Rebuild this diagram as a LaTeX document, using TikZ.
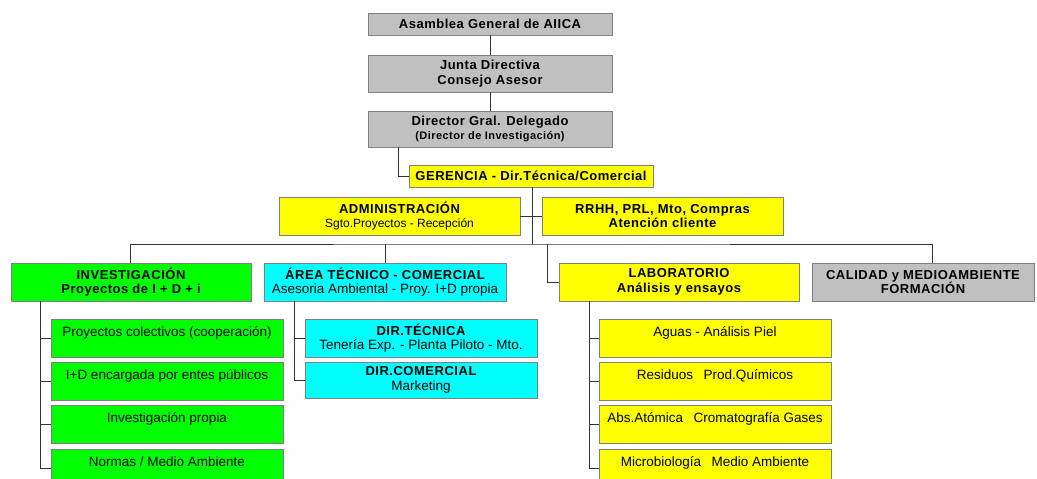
\documentclass[tikz,border=0pt]{standalone}
\usepackage{fontspec}
\setmainfont{Liberation Sans}[BoldFeatures={LetterSpace=4}]
\usepackage{xcolor}
\usetikzlibrary{calc}
\definecolor{gris}{HTML}{C0C0C0}
\definecolor{amarillo}{HTML}{FFFF00}
\definecolor{verde}{HTML}{00FF00}
\definecolor{cian}{HTML}{00FFFF}
\definecolor{borde}{HTML}{808080}
\definecolor{linea}{HTML}{333333}

\begin{document}
\begin{tikzpicture}[x=1pt,y=-1pt,
		%Option for the boxes%
		caja/.style={draw=borde,line width=0.8pt,inner sep=0pt,outer sep=0pt,
			anchor=north west,align=center,text=black},%
		titulo/.style={caja,font=\fontsize{13}{14.5}\selectfont\bfseries},%
		normal/.style={caja,font=\fontsize{13.5}{14.5}\selectfont},%
		hijo/.style={normal,minimum width=232pt,text height=17pt,text depth=21pt},%
		conector/.style={draw=linea,line width=0.8pt}%
		]
		%% some definitions
		\def\W{244}      % width of the top boxes
		\def\Wh{232}     % width of the sub boxes
		\def\bus{244}    % level of the main branch line
		\def\bt{\fontsize{13}{14.5}\selectfont\bfseries} % bold title line
		%
		\path[use as bounding box,clip] (0,0) rectangle (1037,479);
		%
	%% direccion
	\node[titulo,fill=gris,minimum width=\W,minimum height=22] (asam) at (368,13) {Asamblea General de AIICA};
	\node[titulo,fill=gris,minimum width=\W,minimum height=37] (junta) at (368,55) {Junta Directiva\\Consejo Asesor};
	\node[titulo,fill=gris,minimum width=\W,minimum height=36] (direc) at (368,111)
		{Director Gral. Delegado\\{\fontsize{11}{12.5}\selectfont(Director de Investigación)}};
	\node[titulo,fill=amarillo,minimum width=\W,minimum height=22] (geren) at (409,165) {GERENCIA - Dir.Técnica/Comercial};
	
	\node[normal,fill=amarillo,minimum width=241,minimum height=38] (admin) at (279,197)
		{{\bt ADMINISTRACIÓN}\\{\fontsize{12}{14.5}\selectfont Sgto.Proyectos - Recepción}};
	\node[titulo,fill=amarillo,minimum width=241,minimum height=38] (rrhh) at (542,197)
		{RRHH, PRL, Mto, Compras\\Atención cliente};
	
	%% areas
	\node[titulo,fill=verde,minimum width=240,minimum height=38] (inves) at (11,263)
		{INVESTIGACIÓN\\Proyectos de I + D + i};
	\node[normal,fill=cian,minimum width=242,minimum height=38] (area) at (264,263)
		{{\bt ÁREA TÉCNICO - COMERCIAL}\\Asesoria Ambiental - Proy. I+D propia};
	\node[titulo,fill=amarillo,minimum width=240,minimum height=38] (labo) at (559,263)
		{LABORATORIO\\Análisis y ensayos};
	\node[titulo,fill=gris,minimum width=222,minimum height=38] (cali) at (812,263)
		{CALIDAD y MEDIOAMBIENTE\\FORMACIÓN};
	
	%% sub boxes
	\node[hijo,fill=verde] (inv1) at (51,319) {Proyectos colectivos (cooperación)};
	\node[hijo,fill=verde] (inv2) at (51,362) {I+D encargada por entes públicos};
	\node[hijo,fill=verde] (inv3) at (51,405) {Investigación propia};
	\node[hijo,fill=verde] (inv4) at (51,449) {Normas / Medio Ambiente};
	
	\node[normal,fill=cian,minimum width=\Wh,minimum height=38] (dir1) at (305,319)
		{{\bt DIR.TÉCNICA}\\Tenería Exp. - Planta Piloto - Mto.};
	\node[normal,fill=cian,minimum width=\Wh,minimum height=36] (dir2) at (305,362)
		{{\bt DIR.COMERCIAL}\\Marketing};
	
	\node[hijo,fill=amarillo] (lab1) at (599,319) {Aguas - Análisis Piel};
	\node[hijo,fill=amarillo] (lab2) at (599,362) {Residuos\enspace\ Prod.Químicos};
	\node[hijo,fill=amarillo] (lab3) at (599,405) {Abs.Atómica\enspace\ Cromatografía Gases};
	\node[hijo,fill=amarillo] (lab4) at (599,449) {Microbiología\enspace\ Medio Ambiente};
	
	%% connectors
	\coordinate (B) at (532,\bus);
	\draw[conector] (asam) -- (junta);
	\draw[conector] (junta) -- (direc);
	\draw[conector] ([xshift=30pt]direc.south west) |- (geren.west);
	\draw[conector] ([xshift=1pt]geren.south) -- (B);
	\draw[conector] (admin.east) -- (rrhh.west);
	\draw[conector] ([xshift=-1pt]inves.north) |- (B) -| ([xshift=9pt]cali.north);
	\draw[conector] (area.north |- B) -- (area.north);
	\draw[conector] ([xshift=15pt]B) |- (labo.west);
	
	\draw[conector] ([xshift=29pt]inves.south west) |- (inv4.west);
	\foreach \n in {1,2,3}
		\draw[conector] (inv\n.west) -- ++(-11,0);
	\draw[conector] ([xshift=30pt]area.south west) |- (dir2.west);
	\draw[conector] (dir1.west) -- ++(-11,0);
	\draw[conector] ([xshift=30pt]labo.south west) |- (lab4.west);
	\foreach \n in {1,2,3}
		\draw[conector] (lab\n.west) -- ++(-10,0);

	\end{tikzpicture}
\end{document}
